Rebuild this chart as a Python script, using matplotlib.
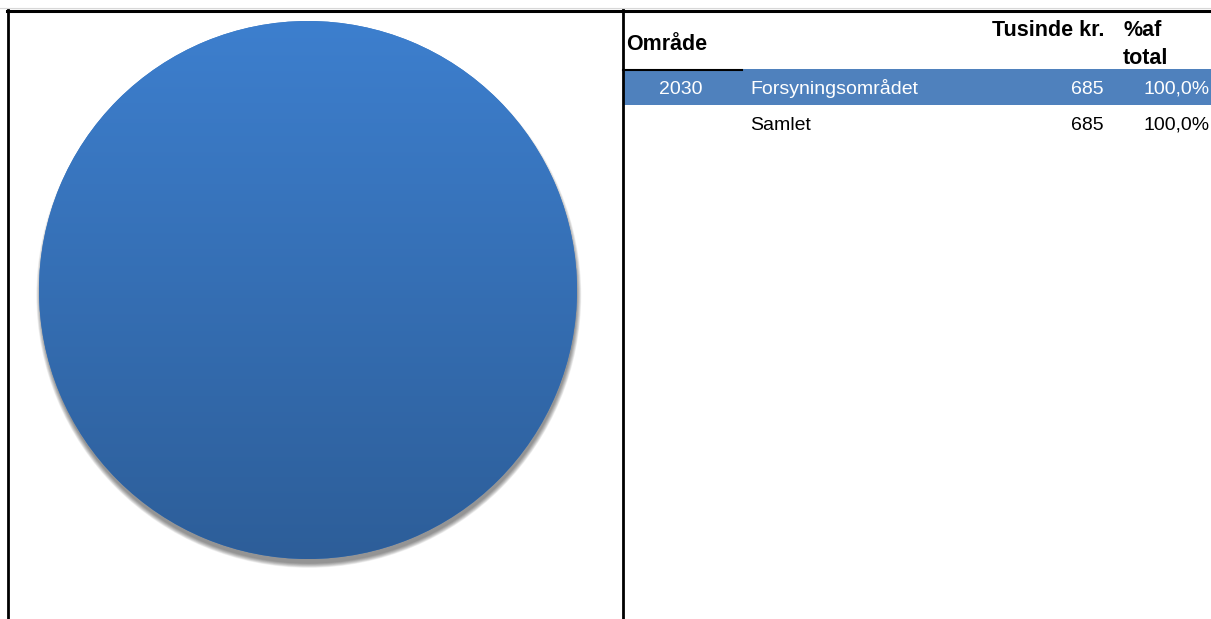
import numpy as np
import matplotlib
matplotlib.use("Agg")
import matplotlib.pyplot as plt
from matplotlib.patches import Circle
from matplotlib.lines import Line2D

plt.rcParams['font.family'] = ['Liberation Sans', 'DejaVu Sans']

# ---- data ----
codes = ["2030"]
areas = ["Forsyningsområdet"]
values = [685]
total_label = "Samlet"
header_area = "Område"
header_value = "Tusinde kr."
header_pct = ["%af", "total"]

W, H = 1211, 619
fig = plt.figure(figsize=(W / 100, H / 100), dpi=100)
fig.patch.set_facecolor("white")

def fx(x):
    return x / W

def fy(y):
    return 1 - y / H

# ---- frame lines ----
fig.add_artist(Line2D([0, 1], [fy(8), fy(8)], color="#d8d8d8", lw=0.8))
fig.add_artist(Line2D([fx(7), 1], [fy(10.5), fy(10.5)], color="black", lw=2.2))
fig.add_artist(Line2D([fx(7.5), fx(7.5)], [fy(10), 0], color="black", lw=2))
fig.add_artist(Line2D([fx(623), fx(623)], [fy(10), 0], color="black", lw=2))

# ---- pie ----
cx, cy, r = 308, 290, 269
m = 1.08
ax = fig.add_axes([fx(cx - r * m), fy(cy + r * m), fx(2 * r * m), (2 * r * m) / H])
ax.set_aspect("equal")
ax.axis("off")

# soft shadow, mostly below the pie
n = 10
for i in range(n):
    s = Circle((0.003, -0.02), 0.995 + 0.0018 * (n - i), facecolor="black",
               edgecolor="none", alpha=0.05, zorder=0)
    ax.add_patch(s)

wedges, _ = ax.pie(values, radius=1.0, startangle=90, counterclock=False,
                   colors=["#3a78c3"], wedgeprops=dict(linewidth=0))
ax.set_xlim(-m, m)
ax.set_ylim(-m, m)
top = np.array([0x3D, 0x7F, 0xCE]) / 255
bot = np.array([0x2D, 0x5E, 0x99]) / 255
t = np.linspace(0, 1, 256)[:, None]
grad = (top[None, :] * (1 - t) + bot[None, :] * t)[:, None, :]
for w in wedges:
    im = ax.imshow(grad, extent=[-1, 1, -1, 1], origin="upper",
                   aspect="auto", zorder=2, interpolation="bilinear")
    im.set_clip_path(w)

# ---- table ----
fs = 14
fsb = 15.5
blue = "#4f81bd"
row1_top, row1_bot = 69, 105
fig.add_artist(plt.Rectangle((fx(624), fy(row1_bot)), 1 - fx(624),
                             (row1_bot - row1_top) / H, facecolor=blue,
                             edgecolor="none"))
fig.add_artist(Line2D([fx(623), fx(742)], [fy(69.5), fy(69.5)], color="black", lw=1.5))

fig.text(fx(626), fy(45), header_area, fontsize=fsb, fontweight="bold",
         ha="left", va="center")
fig.text(fx(1104), fy(30), header_value, fontsize=fsb, fontweight="bold",
         ha="right", va="center")
fig.text(fx(1124), fy(30), header_pct[0], fontsize=fsb, fontweight="bold",
         ha="left", va="center")
fig.text(fx(1123), fy(59), header_pct[1], fontsize=fsb, fontweight="bold",
         ha="left", va="center")

total = sum(values)

def pct(v):
    return f"{100 * v / total:.1f}".replace(".", ",") + "%"

y_row = 89
for code, area, v in zip(codes, areas, values):
    fig.text(fx(681), fy(y_row), code, fontsize=fs, color="white",
             ha="center", va="center")
    fig.text(fx(750), fy(y_row), area, fontsize=fs, color="white",
             ha="left", va="center")
    fig.text(fx(1104), fy(y_row), f"{v}", fontsize=fs, color="white",
             ha="right", va="center")
    fig.text(fx(1210), fy(y_row), pct(v), fontsize=fs, color="white",
             ha="right", va="center")
    y_row += 37

fig.text(fx(750), fy(125), total_label, fontsize=fs, ha="left", va="center")
fig.text(fx(1104), fy(125), f"{total}", fontsize=fs, ha="right", va="center")
fig.text(fx(1210), fy(125), pct(total), fontsize=fs, ha="right", va="center")

fig.savefig("out.png", dpi=100)
